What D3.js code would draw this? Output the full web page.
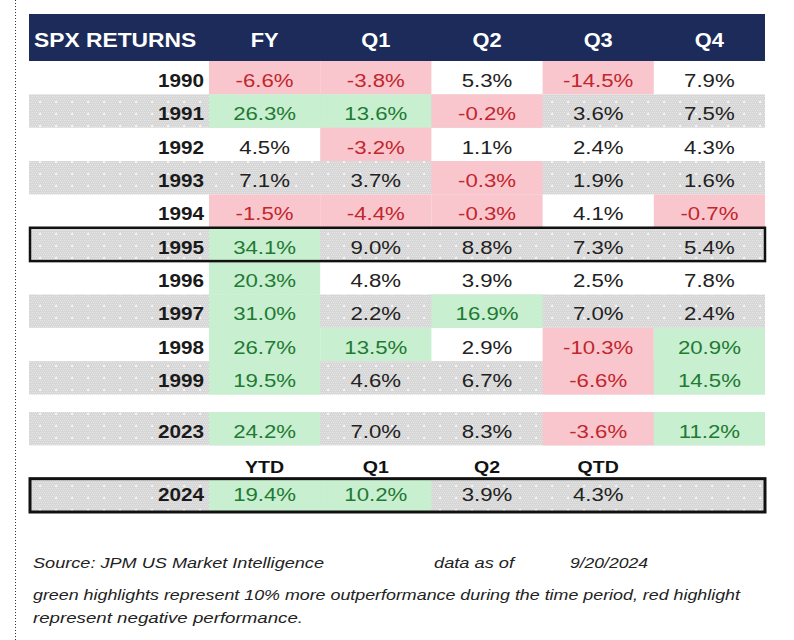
<!DOCTYPE html>
<html><head><meta charset="utf-8">
<script src="https://cdn.jsdelivr.net/npm/d3@7"></script>
<style>html,body{margin:0;padding:0;background:#fff;}svg{display:block;}</style>
</head><body>
<script>
// ---- data ----
const headerCols = ["FY","Q1","Q2","Q3","Q4"];
const years = ["1990","1991","1992","1993","1994","1995","1996","1997","1998","1999","2023"];
const fy = [-6.6, 26.3, 4.5, 7.1, -1.5, 34.1, 20.3, 31.0, 26.7, 19.5, 24.2];
const q1 = [-3.8, 13.6, -3.2, 3.7, -4.4, 9.0, 4.8, 2.2, 13.5, 4.6, 7.0];
const q2 = [5.3, -0.2, 1.1, -0.3, -0.3, 8.8, 3.9, 16.9, 2.9, 6.7, 8.3];
const q3 = [-14.5, 3.6, 2.4, 1.9, 4.1, 7.3, 2.5, 7.0, -10.3, -6.6, -3.6];
const q4 = [7.9, 7.5, 4.3, 1.6, -0.7, 5.4, 7.8, 2.4, 20.9, 14.5, 11.2];
const ytdCols = ["YTD","Q1","Q2","QTD"];
const ytdYear = "2024";
const ytdValues = [19.4, 10.2, 3.9, 4.3];
const shadedYears = ["1991","1993","1995","1997","1999","2023","2024"];
const boxedYears = ["1995","2024"];
const title = "SPX RETURNS";
const sourceText = "Source: JPM US Market Intelligence";
const asOfLabel = "data as of";
const asOfDate = "9/20/2024";
const noteLine1 = "green highlights represent 10% more outperformance during the time period, red highlight";
const noteLine2 = "represent negative performance.";

const series = [fy, q1, q2, q3, q4];

// ---- layout ----
const W = 794, H = 640;
const svg = d3.select("body").append("svg").attr("width", W).attr("height", H);
const defs = svg.append("defs");
const gp = defs.append("pattern").attr("id","gray").attr("patternUnits","userSpaceOnUse")
  .attr("width",16).attr("height",12);
gp.append("rect").attr("width",16).attr("height",12).attr("fill","#d6d6d6");
for (let i=0;i<16;i+=2) for (let j=0;j<12;j+=2) {
  gp.append("rect").attr("x",i+((j/2)%2)).attr("y",j).attr("width",1).attr("height",1).attr("fill","#e6e6e6");
}
gp.append("rect").attr("x",7).attr("y",5).attr("width",2).attr("height",2).attr("fill","#f6f6f6");

const tableL = 29, tableR = 765;
const x = d3.scaleBand().domain(headerCols).range([209, tableR]);
const yMain = d3.scaleBand().domain(years.slice(0,10)).range([61, 394.5]);
const yLow = d3.scaleBand().domain([years[10], "hdr", ytdYear]).range([412, 512]);
const rowY = yr => yMain.domain().includes(yr) ? yMain(yr) : yLow(yr);
const rowH = yr => yMain.domain().includes(yr) ? yMain.bandwidth() : yLow.bandwidth();

const FILL_G = "#c8efcf", FILL_R = "#f9c6cd";
const TXT_G = "#1f7a34", TXT_R = "#c1272d", TXT_N = "#222";
const cellFill = v => v >= 10 ? FILL_G : (v < 0 ? FILL_R : null);
const cellTxt = v => v >= 10 ? TXT_G : (v < 0 ? TXT_R : TXT_N);
const fmt = v => v.toFixed(1) + "%";

function stext(g, str, cx, by, opts) {
  const sx = opts.sx || 1.17;
  return g.append("text")
    .attr("transform", `translate(${cx},${by}) scale(${sx},1)`)
    .attr("text-anchor", opts.anchor || "middle")
    .attr("font-family", "Arial, 'Liberation Sans', sans-serif")
    .attr("font-size", opts.size || 19)
    .attr("font-weight", opts.bold ? "bold" : "normal")
    .attr("fill", opts.fill || TXT_N)
    .text(str);
}

// left dotted border
svg.append("line").attr("x1",15.5).attr("x2",15.5).attr("y1",0).attr("y2",H)
  .attr("stroke","#333").attr("stroke-width",1).attr("stroke-dasharray","1,2");

// header
svg.append("rect").attr("x",tableL).attr("y",14).attr("width",tableR-tableL).attr("height",47)
  .attr("fill","#1c2b59");
const hg = svg.append("g");
stext(hg, title, 34, 47, {anchor:"start", bold:true, fill:"#fff", size:19.5, sx:1.17});
headerCols.forEach(c => stext(hg, c, x(c)+x.bandwidth()/2, 47, {bold:true, fill:"#fff", size:19.5, sx:1.12}));

// rows
const allRows = years.map((yr,i) => ({year: yr, values: series.map(s => s[i]), cols: headerCols}));
allRows.push({year: ytdYear, values: ytdValues, cols: headerCols.slice(0, ytdValues.length)});

const rg = svg.append("g");
allRows.forEach(r => {
  const y0 = rowY(r.year), h = rowH(r.year);
  if (shadedYears.includes(r.year)) {
    rg.append("rect").attr("x",tableL).attr("y",y0).attr("width",tableR-tableL).attr("height",h).attr("fill","url(#gray)");
  }
  r.values.forEach((v,j) => {
    const c = r.cols[j];
    const f = cellFill(v);
    if (f) rg.append("rect").attr("x",x(c)).attr("y",y0).attr("width",x.bandwidth()).attr("height",h).attr("fill",f);
  });
});
const tg = svg.append("g");
allRows.forEach(r => {
  const y0 = rowY(r.year);
  const base = r.year === ytdYear ? y0 + 22 : y0 + 26;
  stext(tg, r.year, 204, base, {anchor:"end", bold:true, size:18.5, sx:1.12, fill:"#1a1a1a"});
  r.values.forEach((v,j) => {
    const c = r.cols[j];
    stext(tg, fmt(v), x(c)+x.bandwidth()/2, base, {size:18.5, sx:1.2, fill: cellTxt(v)});
  });
});

// second header (YTD etc.)
ytdCols.forEach((c,j) => {
  const col = headerCols[j];
  stext(tg, c, x(col)+x.bandwidth()/2, yLow("hdr")+28, {bold:true, size:17, sx:1.15, fill:"#111"});
});

// boxes
boxedYears.forEach(yr => {
  svg.append("rect").attr("x",tableL+1).attr("y",rowY(yr)).attr("width",tableR-tableL-1).attr("height",rowH(yr))
    .attr("fill","none").attr("stroke","#111").attr("stroke-width", yr === ytdYear ? 3 : 2.5);
});

// footer
const fg = svg.append("g").attr("font-family","Arial, 'Liberation Sans', sans-serif")
  .attr("font-style","italic").attr("font-size",15).attr("fill","#222");
const ft = (str, x0, by, len) => fg.append("text").attr("x",x0).attr("y",by)
  .attr("textLength",len).attr("lengthAdjust","spacingAndGlyphs").text(str);
ft(sourceText, 33, 568, 291);
ft(asOfLabel, 434, 568, 80);
ft(asOfDate, 570, 568, 78);
ft(noteLine1, 33, 600, 707);
ft(noteLine2, 33, 623, 270);
</script>
</body></html>
